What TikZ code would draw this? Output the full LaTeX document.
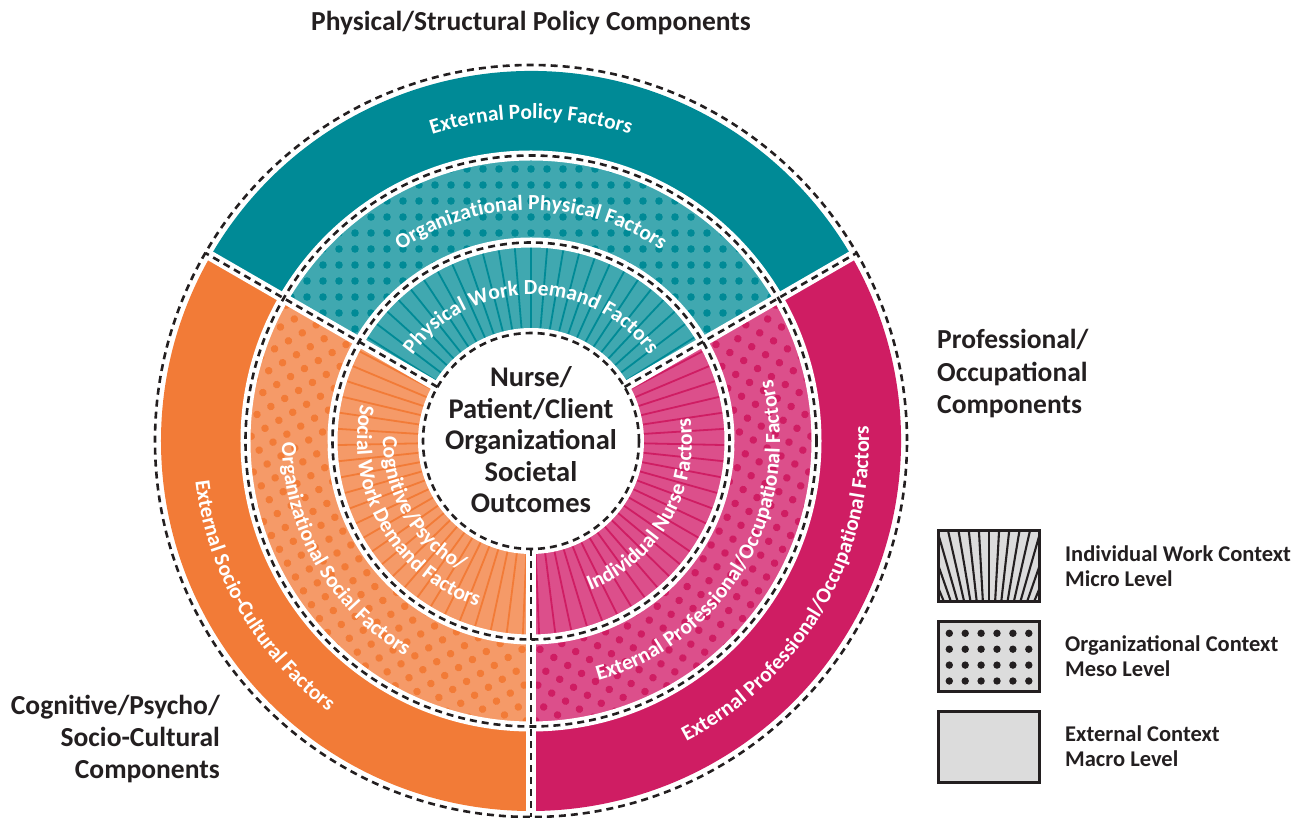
\documentclass[tikz,border=0pt]{standalone}
\usepackage{fontspec}
\setmainfont{Carlito}
\usetikzlibrary{decorations.text}
\definecolor{tealD}{RGB}{0,138,150}
\definecolor{tealL}{RGB}{64,168,176}
\definecolor{orD}{RGB}{242,123,55}
\definecolor{orL}{RGB}{245,154,104}
\definecolor{pkD}{RGB}{207,29,99}
\definecolor{pkL}{RGB}{220,79,139}
\definecolor{ink}{RGB}{35,31,32}
\definecolor{legfill}{RGB}{220,220,220}
\newcommand\secpath[4]{(#1:#3) arc[start angle=#1,end angle=#2,radius=#3] -- (#2:#4) arc[start angle=#2,end angle=#1,radius=#4] -- cycle}
\begin{document}
\begin{tikzpicture}[x=1pt,y=1pt,
  gapline/.style={white,line width=10pt},
  dashline/.style={ink,line width=2.6pt,dash pattern=on 7pt off 5pt},
  rayline/.style={line width=1.8pt},
  arctext/.style={decorate,decoration={text along path,text align=center,text color=white,text={|\bfseries\fontsize{21.5}{26}\selectfont|#1}}},
  centertext/.style={font=\bfseries\fontsize{28.5}{32}\selectfont,text=ink,anchor=base,inner sep=0pt},
  grouplabel/.style={font=\bfseries\fontsize{27.5}{32}\selectfont,text=ink,inner sep=0pt},
  legtext/.style={font=\bfseries\fontsize{22.5}{26}\selectfont,text=ink,anchor=base west,inner sep=0pt},
  legbox/.style={minimum width=100pt,minimum height=70pt,inner sep=0pt,fill=legfill},
  legborder/.style={draw=ink,line width=2.7pt}]
\useasboundingbox (-531,-377) rectangle (774,441);
% sectors
\foreach \rot/\cd/\cl in {0/tealD/tealL,120/orD/orL,240/pkD/pkL}{
 \begin{scope}[rotate=\rot]
  \fill[\cd] \secpath{30}{150}{285.5pt}{370pt};
  \fill[\cl] \secpath{30}{150}{108pt}{285.5pt};
  \begin{scope}
   \clip \secpath{30}{150}{198.5pt}{285.5pt};
   \foreach \i in {-18,...,18}{\foreach \j in {6,...,18}{\fill[\cd] (\i*16,\j*16) circle[radius=3.8pt];}}
  \end{scope}
  \begin{scope}
   \clip \secpath{30}{150}{108pt}{198.5pt};
   \foreach \k in {0,...,24}{\draw[\cd,rayline] (0,0) -- ({32.4+4.8*\k}:200pt);}
  \end{scope}
 \end{scope}
}
% gaps and dashed borders
\foreach \rr in {108,198.5,285.5} \draw[gapline] (0,0) circle[radius=\rr pt];
\foreach \ang in {30,150,270} \draw[gapline] (\ang:100pt) -- (\ang:372pt);
\foreach \rr in {108,198.5,285.5,376} \draw[dashline] (0,0) circle[radius=\rr pt];
\foreach \ang in {30,150,270} \draw[dashline] (\ang:108pt) -- (\ang:376pt);
% curved labels
\path[arctext={External Policy Factors}] (150:322pt) arc[start angle=150,end angle=30,radius=322pt];
\path[arctext={Organizational Physical Factors}] (150:231pt) arc[start angle=150,end angle=30,radius=231pt];
\path[arctext={Physical Work Demand Factors}] (150:146pt) arc[start angle=150,end angle=30,radius=146pt];
\path[arctext={External Socio-Cultural Factors}] (150:338pt) arc[start angle=150,end angle=270,radius=338pt];
\path[arctext={Organizational Social Factors}] (150:249pt) arc[start angle=150,end angle=270,radius=249pt];
\path[arctext={Social Work Demand Factors}] (150:174pt) arc[start angle=150,end angle=270,radius=174pt];
\path[arctext={Cognitive/Psycho/}] (150:148pt) arc[start angle=150,end angle=270,radius=148pt];
\path[arctext={External Professional/Occupational Factors}] (-90:338pt) arc[start angle=-90,end angle=30,radius=338pt];
\path[arctext={External Professional/Occupational Factors}] (-90:249pt) arc[start angle=-90,end angle=30,radius=249pt];
\path[arctext={Individual Nurse Factors}] (-90:161pt) arc[start angle=-90,end angle=30,radius=161pt];
% center text
\node[centertext] (c1) at (0,54) {Nurse/};
\node[centertext] (c2) at (0,22.5) {Patient/Client};
\node[centertext] (c3) at (0,-9) {Organizational};
\node[centertext] (c4) at (0,-40.5) {Societal};
\node[centertext] (c5) at (0,-72) {Outcomes};
% group labels
\node[grouplabel,anchor=base] (title) at (0,410) {Physical/Structural Policy Components};
\node[grouplabel,anchor=base west] (p1) at (406,92) {Professional/};
\node[grouplabel,anchor=base west] (p2) at (406,59.5) {Occupational};
\node[grouplabel,anchor=base west] (p3) at (406,27) {Components};
\node[grouplabel,anchor=base east] (g1) at (-311,-273) {Cognitive/Psycho/};
\node[grouplabel,anchor=base east] (g2) at (-311,-305) {Socio-Cultural};
\node[grouplabel,anchor=base east] (g3) at (-311,-337) {Components};
% legend
\node[legbox] (leg1) at (458,-125) {};
\begin{scope}
 \clip (leg1.south west) rectangle (leg1.north east);
 \foreach \k in {-7,...,7}{\draw[ink,line width=2.1pt] (458,-270) -- ++({90+3.2*\k}:300pt);}
\end{scope}
\draw[legborder] (leg1.south west) rectangle (leg1.north east);
\node[legbox] (leg2) at (458,-215.5) {};
\foreach \i in {0,...,5}{\foreach \j in {0,...,3}{\fill[ink] ({418.3+15.9*\i},{-192.3-15.9*\j}) circle[radius=3.7pt];}}
\draw[legborder] (leg2.south west) rectangle (leg2.north east);
\node[legbox] (leg3) at (458,-306) {};
\draw[legborder] (leg3.south west) rectangle (leg3.north east);
\node[legtext] (l1a) at (534,-121) {Individual Work Context};
\node[legtext] (l1b) at (534,-146) {Micro Level};
\node[legtext] (l2a) at (534,-210) {Organizational Context};
\node[legtext] (l2b) at (534,-235.5) {Meso Level};
\node[legtext] (l3a) at (534,-300) {External Context};
\node[legtext] (l3b) at (534,-325.5) {Macro Level};
\end{tikzpicture}
\end{document}
